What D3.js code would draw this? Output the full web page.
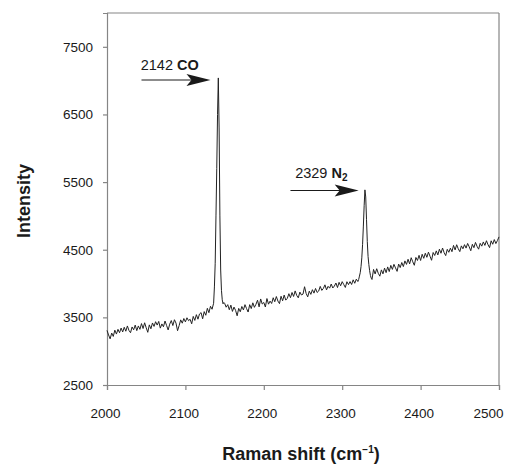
<!DOCTYPE html>
<html>
<head>
<meta charset="utf-8">
<script src="https://cdnjs.cloudflare.com/ajax/libs/d3/7.8.5/d3.min.js"></script>
<style>
  body { margin: 0; background: #fff; }
  #chart { font-family: "Liberation Sans", Arial, sans-serif; }
</style>
</head>
<body>
<div id="chart"></div>
<script>
// spectrum sampled every 2 cm-1 from 2000 to 2500
const firstShift = 2000;
const shiftStep = 2;
const intensity = [
  3307,3240,3182,3268,3218,3311,3253,3323,3273,3342,
  3284,3354,3295,3373,3307,3273,3358,3316,3386,3304,
  3373,3323,3408,3335,3420,3346,3279,3389,3331,3417,
  3366,3436,3386,3440,3341,3403,3361,3446,3380,3314,
  3400,3453,3379,3465,3415,3303,3378,3463,3414,3483,
  3433,3494,3451,3472,3405,3514,3455,3540,3473,3550,
  3570,3479,3585,3531,3634,3569,3664,3620,3708,4300,
  5700,7040,5000,3900,3700,3708,3650,3688,3613,3681,
  3588,3652,3604,3523,3633,3583,3661,3610,3688,3630,
  3579,3688,3630,3715,3648,3693,3754,3655,3772,3697,
  3720,3653,3778,3695,3740,3705,3790,3731,3808,3741,
  3703,3812,3745,3830,3755,3781,3850,3791,3868,3809,
  3891,3824,3789,3874,3831,3844,3953,3854,3803,3888,
  3840,3909,3858,3927,3868,3889,3958,3899,3928,3981,
  3906,3959,3932,3993,3934,3963,4008,3941,4018,3967,
  4028,3985,3942,4027,3984,4029,3986,4055,4004,4065,
  4030,4110,4250,4580,5150,5280,4620,4280,4120,4060,
  4209,4142,4219,4152,4109,4202,4143,4228,4161,4246,
  4177,4269,4209,4284,4232,4180,4288,4236,4311,4251,
  4335,4283,4359,4290,4382,4322,4270,4386,4341,4417,
  4341,4433,4373,4448,4388,4464,4404,4344,4459,4415,
  4483,4423,4508,4448,4525,4457,4413,4506,4462,4523,
  4471,4564,4497,4574,4515,4472,4557,4514,4575,4524,
  4593,4543,4485,4580,4530,4608,4550,4508,4595,4553,
  4615,4564,4633,4574,4531,4632,4581,4650,4591,4636,
  4690
];

// extra 1 cm-1 points across the two peaks
const peakShifts    = [2137,2139,2141,2143,2145,2147,2149, 2321,2323,2325,2327,2329,2331,2333,2335,2337];
const peakIntensity = [3950,5000,6500,6300,4200,3760,3720, 4060,4160,4380,4850,5385,4950,4400,4190,4080];

const xTicks = [2000, 2100, 2200, 2300, 2400, 2500];
const yTicks = [2500, 3500, 4500, 5500, 6500, 7500];

// peak labels: number, species, subscript, text anchor, arrow start/end (data units)
const labelNumbers = ["2142", "2329"];
const labelSpecies = ["CO", "N"];
const labelSub     = ["", "2"];
const labelAt      = [[2043, 7160], [2240, 5555]];
const arrowFrom    = [[2044, 7010], [2234, 5375]];
const arrowTo      = [[2132, 7010], [2321, 5375]];

const W = 506, H = 464;
const margin = {top: 13, right: 7, bottom: 79, left: 107};
const width = W - margin.left - margin.right,
      height = H - margin.top - margin.bottom;

const svg = d3.select("#chart").append("svg")
    .attr("width", W)
    .attr("height", H);
const g = svg.append("g")
    .attr("transform", `translate(${margin.left},${margin.top})`);

const x = d3.scaleLinear().domain([2000, 2500]).range([0, width]);
const y = d3.scaleLinear().domain([2500, 8000]).range([height, 0]);

// merge coarse and fine points
let points = intensity.map((v, i) => ({s: firstShift + i * shiftStep, v: v}));
peakShifts.forEach((s, i) => points.push({s: s, v: peakIntensity[i]}));
points.sort((a, b) => a.s - b.s);

const axisColor = "#858585";

// frame top and right
g.append("line")
  .attr("x1", 0).attr("x2", width).attr("y1", 0).attr("y2", 0)
  .attr("stroke", axisColor).attr("stroke-width", 1.2);
g.append("line")
  .attr("x1", width).attr("x2", width).attr("y1", 0).attr("y2", height)
  .attr("stroke", axisColor).attr("stroke-width", 1.2);

// axes
const xAxis = g.append("g")
  .attr("transform", `translate(0,${height})`)
  .call(d3.axisBottom(x).tickValues(xTicks).tickSize(5).tickPadding(18).tickFormat(d3.format("d")));
const yAxis = g.append("g")
  .call(d3.axisLeft(y).tickValues(yTicks).tickSize(4).tickPadding(10).tickFormat(d3.format("d")));

[xAxis, yAxis].forEach(a => {
  a.select(".domain").attr("stroke", axisColor).attr("stroke-width", 1.2);
  a.selectAll(".tick line").attr("stroke", axisColor).attr("stroke-width", 1.2);
  a.selectAll(".tick text")
    .attr("fill", "#1a1a1a")
    .style("font-family", "'Liberation Sans', Arial, sans-serif")
    .style("font-size", "13.5px");
});
// x labels sit a touch left of their ticks; the last one is pulled in to fit
xAxis.selectAll(".tick text").attr("dx", -2);
xAxis.selectAll(".tick text").filter(d => d === 2500).attr("dx", -11);

// spectrum
const line = d3.line()
  .x(d => x(d.s))
  .y(d => y(d.v));
g.append("path")
  .datum(points)
  .attr("fill", "none")
  .attr("stroke", "#222")
  .attr("stroke-width", 1)
  .attr("stroke-linejoin", "round")
  .attr("d", line);

// annotations
labelNumbers.forEach((num, i) => {
  const t = g.append("text")
    .attr("x", x(labelAt[i][0]))
    .attr("y", y(labelAt[i][1]))
    .attr("fill", "#1a1a1a")
    .style("font-size", "14.5px");
  t.append("tspan").text(num + " ");
  t.append("tspan").attr("font-weight", "bold").text(labelSpecies[i]);
  if (labelSub[i]) {
    t.append("tspan").attr("font-weight", "bold")
      .attr("dy", 3).style("font-size", "10px").text(labelSub[i]);
  }

  const x1 = x(arrowFrom[i][0]), y1 = y(arrowFrom[i][1]);
  const x2 = x(arrowTo[i][0]), y2 = y(arrowTo[i][1]);
  g.append("line")
    .attr("x1", x1).attr("y1", y1).attr("x2", x2 - 18).attr("y2", y2)
    .attr("stroke", "#1a1a1a").attr("stroke-width", 1.1);
  g.append("path")
    .attr("d", `M${x2},${y2} L${x2 - 24},${y2 - 6} L${x2 - 19},${y2} L${x2 - 24},${y2 + 6} Z`)
    .attr("fill", "#1a1a1a");
});

// axis titles
svg.append("text")
  .attr("x", margin.left + width / 2 - 2)
  .attr("y", 460)
  .attr("text-anchor", "middle")
  .attr("fill", "#1a1a1a")
  .style("font-size", "18px")
  .style("font-weight", "bold")
  .call(t => {
    t.append("tspan").text("Raman shift (cm");
    t.append("tspan").attr("dy", -7).style("font-size", "10px").text("\u22121");
    t.append("tspan").attr("dy", 7).text(")");
  });

svg.append("text")
  .attr("transform", "translate(30,201) rotate(-90)")
  .attr("text-anchor", "middle")
  .attr("fill", "#1a1a1a")
  .style("font-size", "18px")
  .style("font-weight", "bold")
  .text("Intensity");
</script>
</body>
</html>
